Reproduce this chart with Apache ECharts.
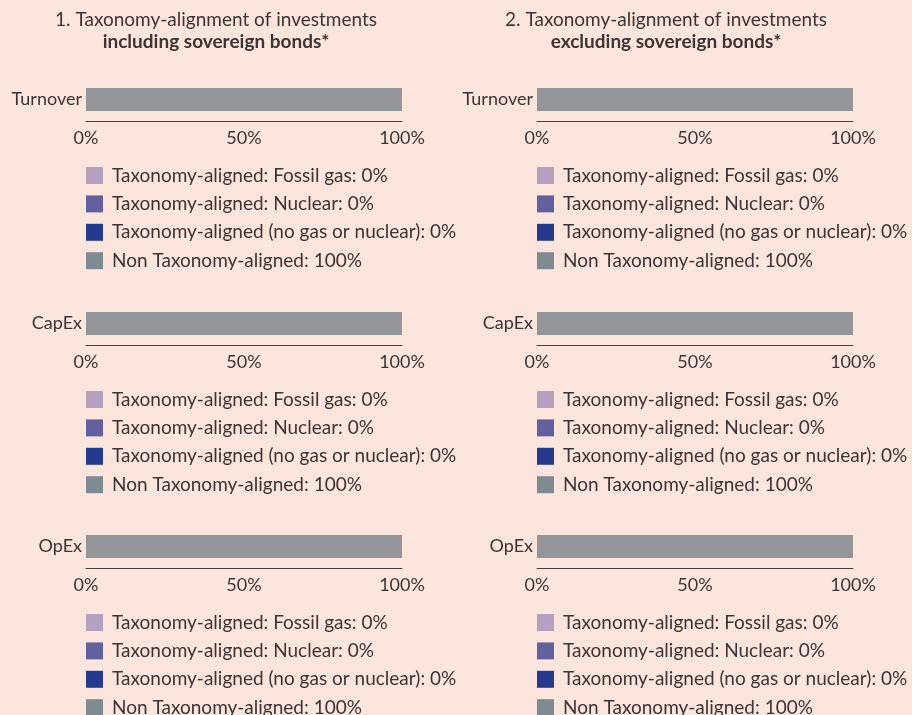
<!DOCTYPE html>
<html>
<head>
<meta charset="utf-8">
<script src="https://cdn.jsdelivr.net/npm/echarts@6/dist/echarts.min.js"></script>
<style>
  html, body { margin: 0; padding: 0; background: #fce5dc; }
  #chart { width: 912px; height: 715px; }
</style>
</head>
<body>
<div id="chart"></div>
<script>
// data
const kpis = ['Turnover', 'CapEx', 'OpEx'];
const seriesNames = [
  'Taxonomy-aligned: Fossil gas',
  'Taxonomy-aligned: Nuclear',
  'Taxonomy-aligned (no gas or nuclear)',
  'Non Taxonomy-aligned'
];
const panelTitles = ['1. Taxonomy-alignment of investments', '2. Taxonomy-alignment of investments'];
const panelSubtitles = ['including sovereign bonds*', 'excluding sovereign bonds*'];
const xTicks = [0, 50, 100];
// values per kpi (Turnover, CapEx, OpEx)
const fossilGasIncl = [0, 0, 0];
const nuclearIncl = [0, 0, 0];
const alignedIncl = [0, 0, 0];
const nonAlignedIncl = [100, 100, 100];
const fossilGasExcl = [0, 0, 0];
const nuclearExcl = [0, 0, 0];
const alignedExcl = [0, 0, 0];
const nonAlignedExcl = [100, 100, 100];

const panelValues = [
  [fossilGasIncl, nuclearIncl, alignedIncl, nonAlignedIncl],
  [fossilGasExcl, nuclearExcl, alignedExcl, nonAlignedExcl]
];

const FONT = 'Lato';
const TEXT = '#3d3535';
const barColors = ['#b3a1c1', '#6360a0', '#253a8c', '#939598'];
const legendColors = ['#b3a1c1', '#6360a0', '#253a8c', '#7e8b92'];

const panelLeft = [86, 537];
const titleCenter = [216, 666];
const rowTop = [78, 302, 525];
const gridW = 316, gridH = 43;

const grids = [], xAxes = [], yAxes = [], series = [], legends = [], titles = [];

panelTitles.forEach(function (t, p) {
  titles.push({
    text: t,
    subtext: panelSubtitles[p],
    left: titleCenter[p],
    top: 10,
    textAlign: 'center',
    itemGap: 3,
    padding: 0,
    textStyle: { fontFamily: FONT, fontSize: 19, fontWeight: 'normal', color: TEXT },
    subtextStyle: { fontFamily: FONT, fontSize: 19, fontWeight: 'bold', color: TEXT }
  });

  kpis.forEach(function (kpi, r) {
    const idx = grids.length;
    grids.push({ left: panelLeft[p], top: rowTop[r], width: gridW, height: gridH, containLabel: false });
    xAxes.push({
      gridIndex: idx, type: 'value', min: 0, max: 100, interval: 50,
      axisLine: { show: true, lineStyle: { color: '#4a3f3f', width: 1 } },
      axisTick: { show: false },
      splitLine: { show: false },
      axisLabel: {
        formatter: '{value}%', fontFamily: FONT, fontSize: 18, color: TEXT, margin: 8,
        customValues: xTicks
      }
    });
    yAxes.push({
      gridIndex: idx, type: 'category', data: [kpi],
      axisLine: { show: false }, axisTick: { show: false },
      axisLabel: { fontFamily: FONT, fontSize: 18, color: TEXT, margin: 4 }
    });
    seriesNames.forEach(function (name, s) {
      series.push({
        name: name, type: 'bar', stack: 'p' + idx,
        xAxisIndex: idx, yAxisIndex: idx,
        barWidth: 23,
        itemStyle: { color: barColors[s] },
        data: [panelValues[p][s][r]]
      });
    });

    const vals = panelValues[p].map(function (arr) { return arr[r]; });
    legends.push({
      orient: 'vertical',
      left: panelLeft[p],
      top: rowTop[r] + 88,
      width: 360,
      height: 140,
      itemWidth: 17, itemHeight: 17, itemGap: 9.4,
      icon: 'rect',
      selectedMode: false,
      padding: 0,
      data: seriesNames.map(function (n, s) {
        return { name: n, itemStyle: { color: legendColors[s] } };
      }),
      formatter: function (name) {
        return name + ': ' + vals[seriesNames.indexOf(name)] + '%';
      },
      textStyle: { fontFamily: FONT, fontSize: 19, color: TEXT, padding: [0, 0, 0, 4] }
    });
  });
});

const chart = echarts.init(document.getElementById('chart'));
chart.setOption({
  backgroundColor: '#fce5dc',
  animation: false,
  title: titles,
  grid: grids,
  xAxis: xAxes,
  yAxis: yAxes,
  legend: legends,
  series: series
});
</script>
</body>
</html>
